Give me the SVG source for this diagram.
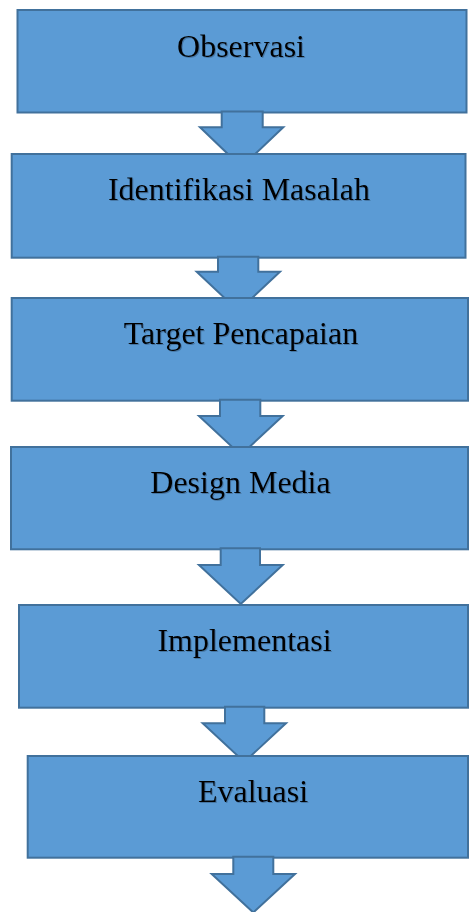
<svg xmlns="http://www.w3.org/2000/svg" width="469" height="912" viewBox="0 0 469 912">
  <style>
    .box { fill: #5b9bd5; stroke: #41719c; stroke-width: 2; }
    .arrow { fill: #5b9bd5; stroke: #41719c; stroke-width: 2; stroke-linejoin: miter; }
    .label { font-family: "Liberation Serif", "Times New Roman", serif; font-size: 32px; fill: #000; text-anchor: middle; filter: url(#soft); }
  </style>
  <defs>
    <filter id="soft" x="-10%" y="-20%" width="120%" height="150%">
      <feDropShadow dx="1" dy="1" stdDeviation="0.6" flood-color="#2a4a6a" flood-opacity="0.45"/>
    </filter>
  </defs>
  <rect width="469" height="912" fill="#ffffff"/>

  <g id="observasi">
    <rect class="box" x="17.5" y="10" width="449" height="102.5"/>
    <text class="label" x="241" y="57">Observasi</text>
  </g>

  <g id="connectors-1">
    <polygon class="arrow" points="221.7,111.5 262.7,111.5 262.7,127.3 283.3,127.3 241.5,167 200,127.3 221.7,127.3"/>
  </g>

  <g id="identifikasi">
    <rect class="box" x="11.7" y="154" width="453.8" height="103.7"/>
    <text class="label" x="239" y="200">Identifikasi Masalah</text>
  </g>

  <g id="connectors-2">
    <polygon class="arrow" points="218,256.7 258.3,256.7 258.3,271.7 280,271.7 238.3,311 196.7,271.7 218,271.7"/>
  </g>

  <g id="target">
    <rect class="box" x="11.7" y="298" width="456.3" height="102.7"/>
    <text class="label" x="241" y="344">Target Pencapaian</text>
  </g>

  <g id="connectors-3">
    <polygon class="arrow" points="220,399.7 260.3,399.7 260.3,416 282.7,416 240.8,455 199,416 220,416"/>
  </g>

  <g id="design">
    <rect class="box" x="11" y="447" width="457" height="102.3"/>
    <text class="label" x="240.5" y="493">Design Media</text>
  </g>

  <g id="connectors-4">
    <polygon class="arrow" points="220.7,548.3 260,548.3 260,565 282.7,565 240.8,604 199,565 220.7,565"/>
  </g>

  <g id="implementasi">
    <rect class="box" x="19" y="605" width="449" height="102.7"/>
    <text class="label" x="244.5" y="651">Implementasi</text>
  </g>

  <g id="connectors-5">
    <polygon class="arrow" points="225,706.7 264.3,706.7 264.3,723.3 286,723.3 244.3,762 202.7,723.3 225,723.3"/>
  </g>

  <g id="evaluasi">
    <rect class="box" x="27.7" y="756" width="440.3" height="101.7"/>
    <text class="label" x="253" y="802">Evaluasi</text>
  </g>

  <g id="connectors-6">
    <polygon class="arrow" points="233.3,856.7 273.3,856.7 273.3,874 295,874 253.3,912.5 211.7,874 233.3,874"/>
  </g>
</svg>
